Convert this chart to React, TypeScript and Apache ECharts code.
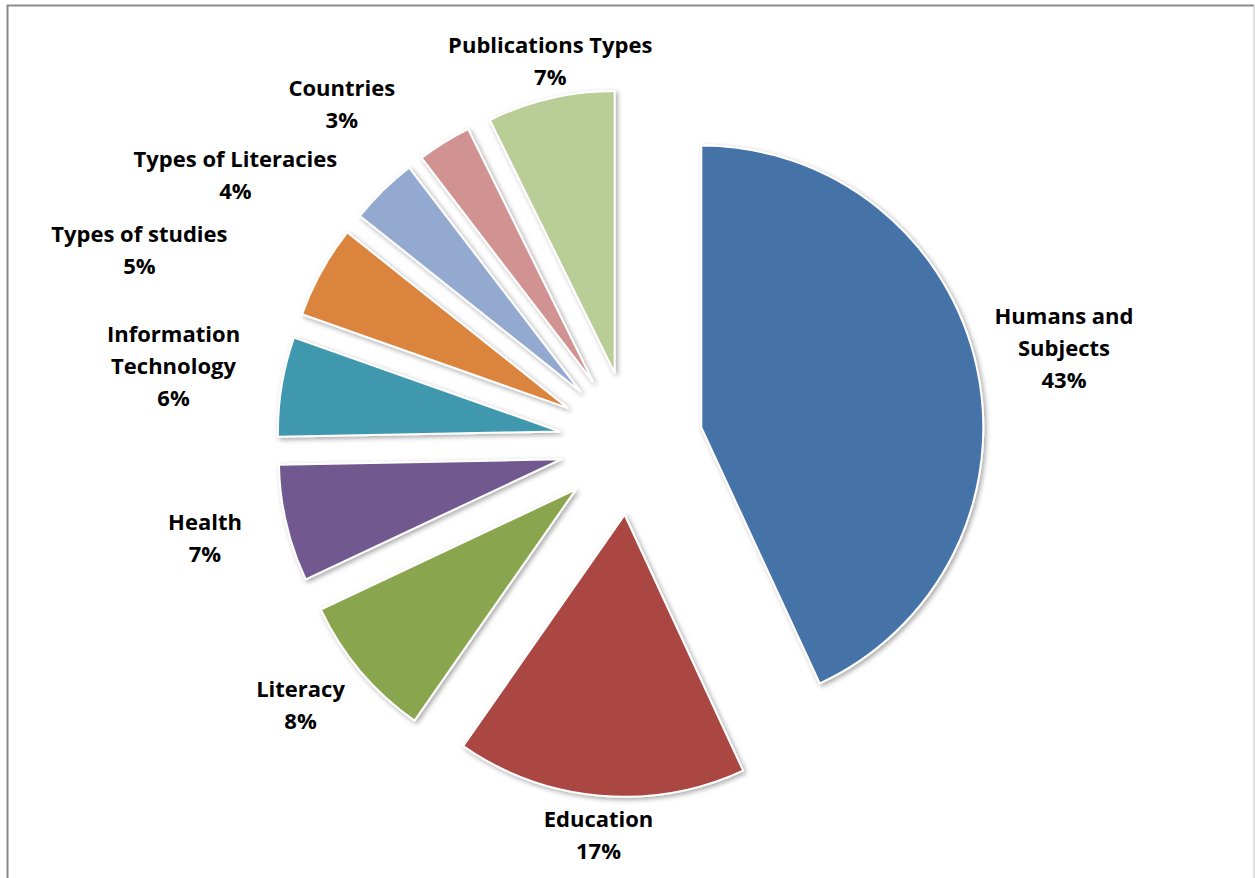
import React, { useEffect, useRef } from "react";
import * as echarts from "echarts";

// ---- data ----
const categories = [
  "Humans and Subjects",
  "Education",
  "Literacy",
  "Health",
  "Information Technology",
  "Types of studies",
  "Types of Literacies",
  "Countries",
  "Publications Types",
];
const labelNames = [
  "Humans and\nSubjects",
  "Education",
  "Literacy",
  "Health",
  "Information\nTechnology",
  "Types of studies",
  "Types of Literacies",
  "Countries",
  "Publications Types",
];
const shares = [43.1, 16.6, 8.3, 6.7, 5.7, 5.3, 3.9, 3.1, 7.3];
const colors = [
  "#4572A7",
  "#AA4643",
  "#89A54E",
  "#71588F",
  "#4198AF",
  "#DB843D",
  "#93A9CF",
  "#D19392",
  "#B9CD96",
];
// label placement (angle from 12 o'clock clockwise, distance from pie centre)
const labelSpots: [number, number][] = [
  [77.5, 443.5],
  [184.75, 392.3],
  [231.7, 421.1],
  [257.6, 436.2],
  [279.7, 464.1],
  [291.5, 528.4],
  [304.2, 478.3],
  [319.6, 446.2],
  [348.1, 391.5],
];

const CX = 631;
const CY = 443;
const RADIUS = 282;
const EXPLODE = 72;
const W = 1255;
const H = 878;

export default function App() {
  const ref = useRef<HTMLDivElement>(null);
  useEffect(() => {
    if (!ref.current) return;
    const chart = echarts.init(ref.current, undefined, { renderer: "svg" });
    const total = shares.reduce((a, b) => a + b, 0);
    const labelTexts = categories.map((_, i) => {
      const pct = Math.round((shares[i] / total) * 100);
      const [ang, dist] = labelSpots[i];
      const rad = (ang * Math.PI) / 180;
      return {
        type: "text",
        silent: true,
        x: CX + dist * Math.sin(rad),
        y: CY - dist * Math.cos(rad),
        style: {
          text: `${labelNames[i]}\n${pct}%`,
          align: "center",
          verticalAlign: "middle",
          fill: "#000000",
          fontFamily: "Open Sans",
          fontWeight: "bold",
          fontSize: 22,
          lineHeight: 32,
        },
      };
    });
    const option = {
      animation: false,
      backgroundColor: "#ffffff",
      graphic: [
        {
          type: "polyline",
          silent: true,
          shape: { points: [[7.5, H + 5], [7.5, 5.5], [1254, 5.5]] },
          style: { stroke: "#8a8a8a", lineWidth: 2, fill: "none" },
        },
        {
          type: "line",
          silent: true,
          shape: { x1: 1254, y1: 5.5, x2: 1254, y2: H + 5 },
          style: { stroke: "#d4d4d4", lineWidth: 1.5 },
        },
        ...labelTexts,
      ],
      series: [
        {
          type: "pie",
          center: [CX, CY],
          radius: [0, RADIUS],
          startAngle: 90,
          clockwise: true,
          selectedMode: "multiple",
          selectedOffset: EXPLODE,
          avoidLabelOverlap: false,
          emphasis: { disabled: true },
          itemStyle: {
            borderColor: "#ffffff",
            borderWidth: 2,
            shadowBlur: 5,
            shadowOffsetX: 2,
            shadowOffsetY: 2,
            shadowColor: "rgba(0,0,0,0.35)",
          },
          label: { show: false },
          labelLine: { show: false },
          data: categories.map((name, i) => ({
            name,
            value: shares[i],
            selected: true,
            itemStyle: { color: colors[i] },
          })),
        },
      ],
    };
    chart.setOption(option as any);
    return () => chart.dispose();
  }, []);
  return (
    <div
      ref={ref}
      style={{ position: "absolute", left: 0, top: 0, width: W, height: H }}
    />
  );
}
